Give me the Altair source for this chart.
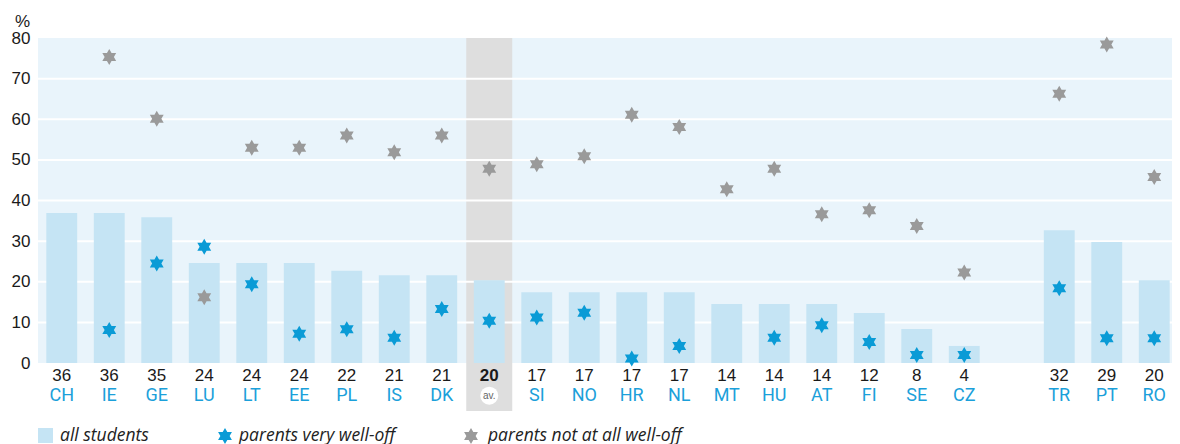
import altair as alt
import pandas as pd

countries = ["CH", "IE", "GE", "LU", "LT", "EE", "PL", "IS", "DK", "av.", "SI", "NO",
             "HR", "NL", "MT", "HU", "AT", "FI", "SE", "CZ", "TR", "PT", "RO"]
value_labels = ["36", "36", "35", "24", "24", "24", "22", "21", "21", "20", "17", "17",
                "17", "17", "14", "14", "14", "12", "8", "4", "32", "29", "20"]
all_students = [36.9, 36.9, 35.9, 24.6, 24.6, 24.6, 22.7, 21.6, 21.6, 20.4, 17.4, 17.4,
                17.4, 17.4, 14.5, 14.5, 14.5, 12.3, 8.4, 4.2, 32.7, 29.8, 20.4]
very_well_off = [None, 8.1, 24.5, 28.6, 19.4, 7.2, 8.3, 6.2, 13.3, 10.4, 11.2, 12.4,
                 1.1, 4.2, None, 6.2, 9.3, 5.2, 2.0, 2.0, 18.4, 6.1, 6.1]
not_well_off = [None, 75.3, 60.1, 16.2, 53.0, 53.0, 56.0, 51.9, 56.0, 47.8, 48.9, 50.9,
                61.1, 58.1, 42.8, 47.8, 36.6, 37.6, 33.7, 22.3, 66.3, 78.4, 45.8]
y_ticks = [0, 10, 20, 30, 40, 50, 60, 70, 80]
legend_labels = ["all students", "parents very well-off", "parents not at all well-off"]

# x domain: EU group, an empty spacer slot, then the candidate countries
x_domain = countries[:20] + [" "] + countries[20:]

W = 1134          # visible plot width
RANGE = 1140      # full band range (last slot runs to the edge)
H = 325
BAR = "#c5e4f4"
BG = "#e9f4fb"
BLUE = "#0a9bd6"
GREY = "#9a9a9a"
CODE = "#1ba0da"

HEX = ("M0,-1L0.2887,-0.5L0.866,-0.5L0.5774,0L0.866,0.5L0.2887,0.5L0,1"
       "L-0.2887,0.5L-0.866,0.5L-0.5774,0L-0.866,-0.5L-0.2887,-0.5Z")

df = pd.DataFrame({
    "country": countries,
    "label": value_labels,
    "all": all_students,
    "very": very_well_off,
    "notat": not_well_off,
})
df["code"] = [c if c != "av." else "" for c in countries]
df["is_av"] = [c == "av." for c in countries]

xs = alt.Scale(domain=x_domain, range=[0, RANGE], paddingInner=0.35, paddingOuter=0.175)
ys = alt.Scale(domain=[0, 80], nice=False)
X = alt.X("country:N", scale=xs, axis=None)
Y_AXIS = alt.Axis(values=y_ticks, grid=False, ticks=False, domain=False,
                  labelFontSize=17, labelColor="#1a1a1a", labelFont="Liberation Sans",
                  labelPadding=8, title="%", titleAngle=0, titleX=-16, titleY=-17,
                  titleAlign="center", titleBaseline="middle", titleFontSize=17,
                  titleFontWeight="normal", titleFont="Liberation Sans",
                  titleColor="#1a1a1a")

base = alt.Chart(df)

av_col = base.transform_filter("datum.is_av").mark_rule(
    color="#dedede", strokeWidth=46, strokeCap="butt"
).encode(x=X, y=alt.value(0), y2=alt.value(373))

grid = alt.Chart(pd.DataFrame({"t": y_ticks[1:-1]})).mark_rule(
    color="white", strokeWidth=2
).encode(y=alt.Y("t:Q", scale=ys, axis=Y_AXIS), x=alt.value(0), x2=alt.value(W))

bars = base.mark_bar(color=BAR).encode(
    x=X, y=alt.Y("all:Q", scale=ys, axis=Y_AXIS),
)

blue_stars = base.transform_filter("isValid(datum.very)").mark_point(
    shape=HEX, filled=True, size=256, color=BLUE, opacity=1
).encode(x=X, y=alt.Y("very:Q", scale=ys, axis=Y_AXIS))

grey_stars = base.transform_filter("isValid(datum.notat)").mark_point(
    shape=HEX, filled=True, size=256, color=GREY, opacity=1
).encode(x=X, y=alt.Y("notat:Q", scale=ys, axis=Y_AXIS))

nums = base.transform_filter("!datum.is_av").mark_text(
    font="Liberation Sans", fontSize=17, color="#1a1a1a", baseline="middle"
).encode(x=X, y=alt.value(338), text="label:N")

nums_av = base.transform_filter("datum.is_av").mark_text(
    font="Liberation Sans", fontSize=17, color="#1a1a1a", baseline="middle", fontWeight="bold"
).encode(x=X, y=alt.value(338), text="label:N")

codes = base.mark_text(font="Roboto", fontSize=18, color=CODE, baseline="middle").encode(
    x=X, y=alt.value(358), text="code:N"
)

av_circle = base.transform_filter("datum.is_av").mark_circle(
    color="white", opacity=1, size=324
).encode(x=X, y=alt.value(357.7))

av_text = base.transform_filter("datum.is_av").mark_text(
    font="Liberation Sans", fontSize=10, color="#666666", baseline="middle"
).encode(x=X, y=alt.value(357.7), text="country:N")

leg_df = pd.DataFrame({"lab": legend_labels})
leg_sq = alt.Chart(leg_df).transform_filter("datum.lab == 'all students'").mark_rect(
    color=BAR).encode(x=alt.value(0), x2=alt.value(15), y=alt.value(390), y2=alt.value(405))
leg_blue = alt.Chart(leg_df).transform_filter("datum.lab == 'parents very well-off'").mark_point(
    shape=HEX, filled=True, size=256, color=BLUE, opacity=1
).encode(x=alt.value(187), y=alt.value(398))
leg_grey = alt.Chart(leg_df).transform_filter("datum.lab == 'parents not at all well-off'").mark_point(
    shape=HEX, filled=True, size=256, color=GREY, opacity=1
).encode(x=alt.value(433), y=alt.value(398))

def leg_text(label, xpos):
    return alt.Chart(leg_df).transform_filter(f"datum.lab == '{label}'").mark_text(
        font="Open Sans", fontSize=17.5, fontStyle="italic", color="#222222",
        align="left", baseline="middle"
    ).encode(x=alt.value(xpos), y=alt.value(398), text="lab:N")

chart = alt.layer(
    av_col, grid, bars, blue_stars, grey_stars, nums, nums_av, codes, av_circle, av_text,
    leg_sq, leg_blue, leg_grey,
    leg_text(legend_labels[0], 22), leg_text(legend_labels[1], 201),
    leg_text(legend_labels[2], 450),
).properties(
    width=W, height=H,
    autosize=alt.AutoSizeParams(type="none"),
    padding={"left": 30, "top": 30, "right": 0, "bottom": 90},
).configure_view(stroke=None, fill=BG)

chart.save("out.html", embed_options={"renderer": "svg", "actions": False})
